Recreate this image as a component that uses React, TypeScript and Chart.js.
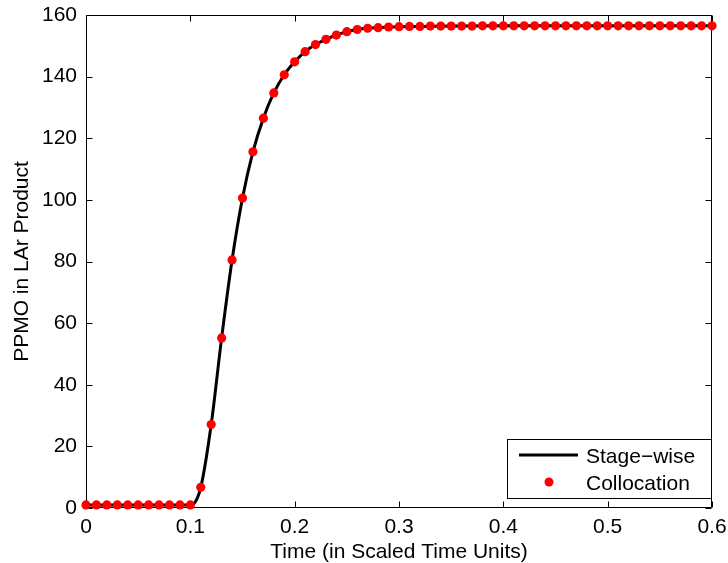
import React, { useEffect, useRef } from 'react';
import { Chart, registerables } from 'chart.js';

Chart.register(...registerables);

const collocationTimes = [
  0, 0.01, 0.02, 0.03, 0.04, 0.05, 0.06, 0.07, 0.08, 0.09,
  0.1, 0.11, 0.12, 0.13, 0.14, 0.15, 0.16, 0.17, 0.18, 0.19,
  0.2, 0.21, 0.22, 0.23, 0.24, 0.25, 0.26, 0.27, 0.28, 0.29,
  0.3, 0.31, 0.32, 0.33, 0.34, 0.35, 0.36, 0.37, 0.38, 0.39,
  0.4, 0.41, 0.42, 0.43, 0.44, 0.45, 0.46, 0.47, 0.48, 0.49,
  0.5, 0.51, 0.52, 0.53, 0.54, 0.55, 0.56, 0.57, 0.58, 0.59, 0.6,
];
const collocationValues = [
  1.0, 1.0, 1.0, 1.0, 1.0, 1.0, 1.0, 1.0, 1.0, 1.0,
  1.0, 6.7, 27.1, 55.2, 80.5, 100.6, 115.6, 126.5, 134.7, 140.6,
  144.8, 148.1, 150.4, 152.1, 153.5, 154.6, 155.3, 155.7, 155.9, 156.1,
  156.2, 156.3, 156.3, 156.4, 156.4, 156.4, 156.4, 156.4, 156.5, 156.5,
  156.5, 156.5, 156.5, 156.5, 156.5, 156.5, 156.5, 156.5, 156.5, 156.5,
  156.5, 156.5, 156.5, 156.5, 156.5, 156.5, 156.5, 156.5, 156.5, 156.5, 156.5,
];

const stageTimes = [
  0, 0.05, 0.1, 0.103, 0.11, 0.12, 0.13, 0.14, 0.15, 0.16, 0.17, 0.18, 0.19,
  0.2, 0.21, 0.22, 0.23, 0.24, 0.25, 0.26, 0.27, 0.28, 0.29, 0.3, 0.32, 0.35,
  0.4, 0.5, 0.6,
];
const stageValues = [
  1.0, 1.0, 1.0, 1.3, 6.7, 27.1, 55.2, 80.5, 100.6, 115.6, 126.5, 134.7, 140.6,
  144.8, 148.1, 150.4, 152.1, 153.5, 154.6, 155.3, 155.7, 155.9, 156.1, 156.2, 156.3, 156.4,
  156.5, 156.5, 156.5,
];

const xTickValues = [0, 0.1, 0.2, 0.3, 0.4, 0.5, 0.6];
const xTickLabels = ['0', '0.1', '0.2', '0.3', '0.4', '0.5', '0.6'];
const yTickValues = [0, 20, 40, 60, 80, 100, 120, 140, 160];
const yTickLabels = ['0', '20', '40', '60', '80', '100', '120', '140', '160'];

const seriesLabels = ['Stage\u2212wise', 'Collocation'];
const xTitle = 'Time (in Scaled Time Units)';
const yTitle = 'PPMO in LAr Product';

const FONT = '"Liberation Sans", Arial, sans-serif';
const FONT_SIZE = 21;

const framePlugin = {
  id: 'matlabFrame',
  beforeDatasetsDraw(chart: any) {
    const { ctx, chartArea } = chart;
    const { left, right, top, bottom } = chartArea;
    const xs = chart.scales.x;
    const ys = chart.scales.y;
    const L = Math.round(left) + 0.5;
    const R = Math.round(right) - 0.5;
    const T = Math.round(top) + 0.5;
    const B = Math.round(bottom) - 0.5;
    ctx.save();
    ctx.strokeStyle = '#000';
    ctx.lineWidth = 1;
    ctx.beginPath();
    ctx.rect(L, T, R - L, B - T);
    const tl = 6;
    xs.ticks.forEach((t: any) => {
      const px = Math.round(xs.getPixelForValue(t.value)) + 0.5;
      ctx.moveTo(px, B);
      ctx.lineTo(px, B - tl);
      ctx.moveTo(px, T);
      ctx.lineTo(px, T + tl);
    });
    ys.ticks.forEach((t: any) => {
      const py = Math.round(ys.getPixelForValue(t.value)) + 0.5;
      ctx.moveTo(L, py);
      ctx.lineTo(L + tl, py);
      ctx.moveTo(R, py);
      ctx.lineTo(R - tl, py);
    });
    ctx.stroke();
    ctx.restore();
  },
};

const legendPlugin = {
  id: 'insideLegend',
  afterDraw(chart: any) {
    const { ctx, chartArea } = chart;
    const ds = chart.data.datasets;
    const boxR = Math.round(chartArea.right) - 1;
    const boxL = boxR - 204;
    const boxB = Math.round(chartArea.bottom) - 10;
    const boxT = boxB - 59;
    ctx.save();
    ctx.fillStyle = '#fff';
    ctx.fillRect(boxL, boxT, boxR - boxL, boxB - boxT);
    ctx.strokeStyle = '#000';
    ctx.lineWidth = 1;
    ctx.strokeRect(boxL + 0.5, boxT + 0.5, boxR - boxL, boxB - boxT);

    const row1 = boxT + 16;
    const row2 = boxT + 43;
    ctx.strokeStyle = '#000';
    ctx.lineWidth = 3;
    ctx.beginPath();
    ctx.moveTo(boxL + 12, row1);
    ctx.lineTo(boxL + 71, row1);
    ctx.stroke();
    ctx.fillStyle = '#ff0000';
    ctx.beginPath();
    ctx.arc(boxL + 42, row2, 4.5, 0, Math.PI * 2);
    ctx.fill();

    ctx.fillStyle = '#000';
    ctx.font = `${FONT_SIZE}px ${FONT}`;
    ctx.textAlign = 'left';
    ctx.textBaseline = 'alphabetic';
    ctx.fillText(ds[0].label, boxL + 79, row1 + 8);
    ctx.fillText(ds[1].label, boxL + 79, row2 + 8);
    ctx.restore();
  },
};

const zeroPadding = (s: any) => {
  s.paddingTop = 0;
  s.paddingBottom = 0;
  s.paddingLeft = 0;
  s.paddingRight = 0;
};

export default function App() {
  const canvasRef = useRef<HTMLCanvasElement | null>(null);

  useEffect(() => {
    const canvas = canvasRef.current;
    if (!canvas) return;
    const chart = new Chart(canvas, {
      type: 'scatter',
      data: {
        datasets: [
          {
            label: seriesLabels[0],
            data: stageTimes.map((t, i) => ({ x: t, y: stageValues[i] })),
            showLine: true,
            borderColor: '#000',
            borderWidth: 3,
            pointRadius: 0,
            pointHoverRadius: 0,
            cubicInterpolationMode: 'monotone',
            fill: false,
            clip: false,
            order: 2,
          },
          {
            label: seriesLabels[1],
            data: collocationTimes.map((t, i) => ({ x: t, y: collocationValues[i] })),
            showLine: false,
            backgroundColor: '#ff0000',
            borderColor: '#ff0000',
            borderWidth: 0,
            pointRadius: 4.6,
            pointHoverRadius: 4.6,
            clip: false,
            order: 1,
          },
        ],
      } as any,
      options: {
        animation: false,
        responsive: false,
        maintainAspectRatio: false,
        devicePixelRatio: 1,
        events: [],
        layout: {
          autoPadding: false,
          padding: { left: 0, right: 16, top: 15, bottom: 0 },
        },
        plugins: {
          legend: { display: false },
          tooltip: { enabled: false },
          title: { display: false },
        },
        scales: {
          x: {
            type: 'linear',
            min: 0,
            max: 0.6,
            grid: { display: false, drawTicks: false },
            border: { display: false },
            afterBuildTicks: (s: any) => {
              s.ticks = xTickValues.map((v) => ({ value: v }));
            },
            afterFit: (s: any) => {
              s.height = 55;
              zeroPadding(s);
            },
            ticks: {
              autoSkip: false,
              maxRotation: 0,
              padding: 7,
              color: '#000',
              font: { family: FONT, size: FONT_SIZE },
              callback: (_v: any, i: number) => xTickLabels[i],
            },
            title: {
              display: true,
              text: xTitle,
              color: '#000',
              font: { family: FONT, size: FONT_SIZE, lineHeight: 1 },
              padding: { top: 0, bottom: 0 },
            },
          },
          y: {
            type: 'linear',
            min: 0,
            max: 160,
            grid: { display: false, drawTicks: false },
            border: { display: false },
            afterBuildTicks: (s: any) => {
              s.ticks = yTickValues.map((v) => ({ value: v }));
            },
            afterFit: (s: any) => {
              s.width = 86;
              zeroPadding(s);
            },
            ticks: {
              autoSkip: false,
              padding: 9,
              color: '#000',
              font: { family: FONT, size: FONT_SIZE },
              callback: (_v: any, i: number) => yTickLabels[i],
            },
            title: {
              display: true,
              text: yTitle,
              color: '#000',
              font: { family: FONT, size: FONT_SIZE, lineHeight: 1 },
              padding: { top: 12, bottom: 0 },
            },
          },
        },
      } as any,
      plugins: [framePlugin, legendPlugin],
    });
    return () => chart.destroy();
  }, []);

  return (
    <div style={{ position: 'fixed', left: 0, top: 0, width: 728, height: 563, background: '#fff' }}>
      <canvas ref={canvasRef} width={728} height={563} style={{ width: 728, height: 563 }} />
    </div>
  );
}
